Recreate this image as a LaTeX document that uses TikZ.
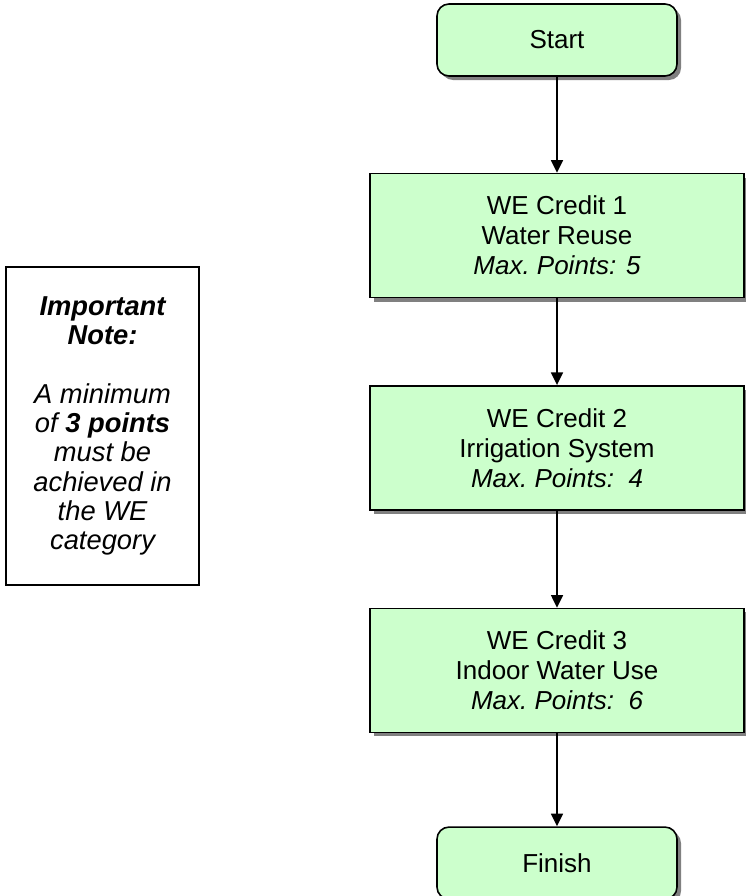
\documentclass[tikz,border=0pt]{standalone}
\usepackage{fontspec}
\setmainfont{Liberation Sans}
\usetikzlibrary{shapes.geometric, arrows.meta, positioning, shadows}
\definecolor{stepgreen}{HTML}{CCFFCC}
\definecolor{shadowgray}{HTML}{808080}

\begin{document}
\begin{tikzpicture}[
    box/.style={rectangle, draw, line width=1.2pt, fill=stepgreen, minimum width=280.5pt, minimum height=93pt, align=center, font=\fontsize{19.5pt}{22.5pt}\selectfont, drop shadow={shadow xshift=3pt, shadow yshift=-3pt, fill=shadowgray, opacity=1}},
    term/.style={box, rounded corners=9pt, minimum width=180pt, minimum height=54pt},
    notebox/.style={rectangle, draw, line width=1.2pt, fill=white, minimum width=144.75pt, minimum height=238.5pt, align=center, font=\fontsize{20.5pt}{22pt}\selectfont\itshape},
    arrow/.style={-{Triangle[length=9.5pt, width=9pt]}, line width=1.3pt}
]
\useasboundingbox (0,0) rectangle (559.5pt,-672pt);

\node[term] (start) at (417.75pt,-30pt) {Start};
\node[box, below=72pt of start] (we1) {WE Credit 1\\Water Reuse\\\textit{Max.\ Points: 5}};
\node[box, below=65pt of we1] (we2) {WE Credit 2\\Irrigation System\\\textit{Max.\ Points:\ \ 4}};
\node[box, below=72.75pt of we2] (we3) {WE Credit 3\\Indoor Water Use\\\textit{Max.\ Points:\ \ 6}};
\node[term, below=69.75pt of we3] (finish) {Finish};

\draw[arrow] (start) -- (we1);
\draw[arrow] (we1) -- (we2);
\draw[arrow] (we2) -- (we3);
\draw[arrow] (we3) -- (finish);

\node[notebox] (note) at (76.9pt,-319.5pt) {\textbf{Important}\\\textbf{Note:}\\~\\A minimum\\of \textbf{3 points}\\must be\\achieved in\\the WE\\category};
\end{tikzpicture}
\end{document}
